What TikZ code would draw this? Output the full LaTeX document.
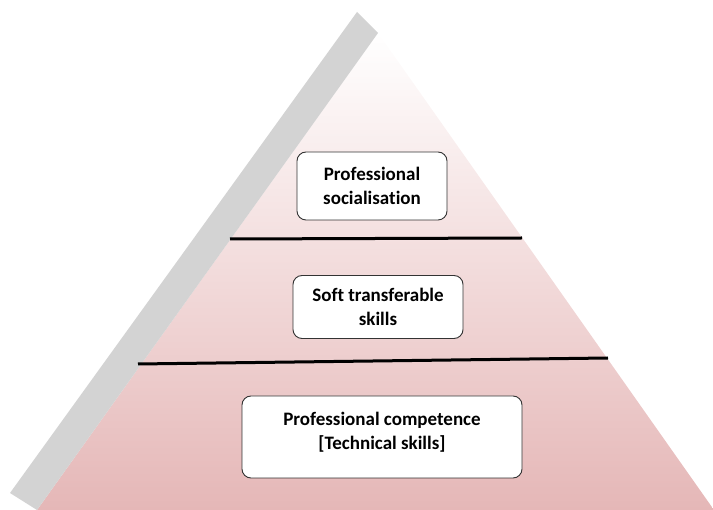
\documentclass[tikz,border=0pt]{standalone}
\usepackage{fontspec}
\setmainfont[Ligatures=NoCommon]{Carlito}
\definecolor{bandgrey}{RGB}{211,211,211}
\definecolor{pyramidpink}{RGB}{229,183,183}

\begin{document}
\begin{tikzpicture}[
  x=1pt, y=-1pt,
  level/.style={rectangle, rounded corners=9pt, draw=black!80, fill=white, line width=0.9pt, align=center, font=\fontsize{19}{23.5}\selectfont\bfseries},
  divider/.style={line width=3pt, black}
  ]
  \useasboundingbox (0,0) rectangle (713,510);
  % pyramid body
  \shade[top color=white, bottom color=pyramidpink] (378,33) -- (714,510) -- (37,510) -- cycle;
  % grey side band
  \fill[bandgrey] (357,12) -- (378,33) -- (37,510) -- (10,493) -- cycle;
  % level dividers
  \draw[divider] (230,239) -- (522,238);
  \draw[divider] (138,364) -- (608,358);
  % level labels
  \node[level, minimum width=150, minimum height=68] (social) at (372,186) {Professional\\socialisation};
  \node[level, minimum width=170, minimum height=63] (soft) at (378,307) {Soft transferable\\skills};
  \node[level, minimum width=280, minimum height=82] (tech) at (382,437) {Professional competence\\{[Technical skills]}\\[-11.5pt]};
\end{tikzpicture}
\end{document}
